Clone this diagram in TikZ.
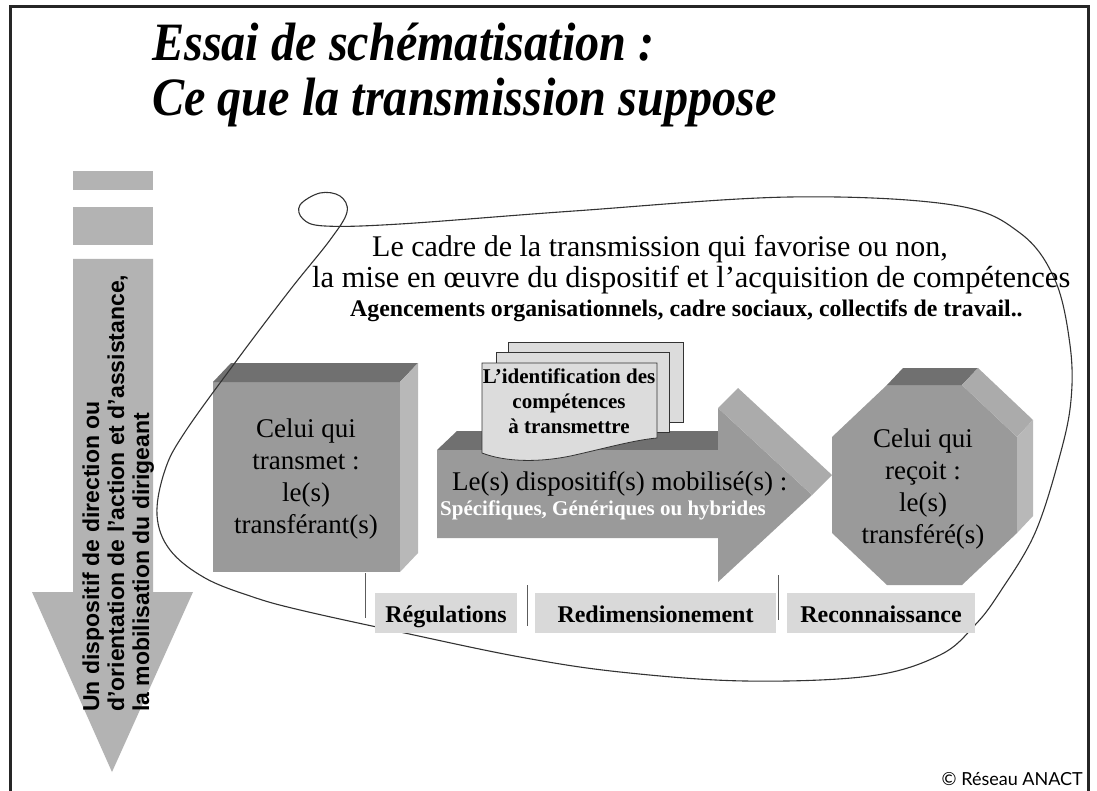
\documentclass[tikz,border=0pt]{standalone}
\usepackage{fontspec}
\setmainfont{Liberation Serif}
\newfontfamily\arialf{Liberation Sans}
\newfontfamily\gillf{Lato}
\definecolor{arrgray}{HTML}{B3B3B3}
\definecolor{frontg}{HTML}{9A9A9A}
\definecolor{topg}{HTML}{707070}
\definecolor{sideg}{HTML}{B8B8B8}
\definecolor{headg}{HTML}{ABABAB}
\definecolor{docg}{HTML}{DCDCDC}
\definecolor{labg}{HTML}{D9D9D9}
\definecolor{lineg}{HTML}{333333}
\definecolor{frameg}{HTML}{262626}
\tikzset{
  frontface/.style={fill=frontg},
  topface/.style={fill=topg},
  sideface/.style={fill=sideg},
  docsheet/.style={fill=docg, draw=lineg, line width=0.8pt},
  labelbox/.style={fill=labg},
  labeltext/.style={anchor=base, inner sep=0, font=\fontsize{24}{24}\selectfont\bfseries},
  boxtext/.style={anchor=base, inner sep=0, font=\fontsize{27}{27}\selectfont},
  doctext/.style={anchor=base, inner sep=0, font=\fontsize{21}{21}\selectfont\bfseries},
  arrtext/.style={rotate=90, anchor=base west, inner sep=0, font=\arialf\fontsize{23}{23}\selectfont\bfseries},
  titletext/.style={anchor=base west, inner sep=0, font=\fontsize{54}{54}\selectfont\bfseries\itshape},
  sepline/.style={draw=lineg!80, line width=0.8pt},
}
\begin{document}
\begin{tikzpicture}[x=1pt,y=-1pt]
\useasboundingbox (0,0) rectangle (1097,791);
\fill[white] (0,0) rectangle (1097,791);
% frame
\draw[frameg, line width=3pt] (10.5,791) -- (10.5,6.5) -- (1088.5,6.5) -- (1088.5,791);
% title
\node[titletext] (title1) at (152,61) {\scalebox{0.893}[1]{Essai de schématisation :}};
\node[titletext] (title2) at (152,116) {\scalebox{0.893}[1]{Ce que la transmission suppose}};
% left arrow
\fill[arrgray] (73,171) rectangle (153,190);
\fill[arrgray] (73,207) rectangle (153,245);
\fill[arrgray] (73,259) -- (153,259) -- (153,592) -- (193,592) -- (112,772) -- (32,592) -- (73,592) -- cycle;
\node[arrtext] (arr1) at (99,712) {Un dispositif de direction ou};
\node[arrtext] (arr2) at (124,712) {d’orientation de l’action et d’assistance,};
\node[arrtext] (arr3) at (149,712) {la mobilisation du dirigeant};
% cube (transmitter)
\fill[frontface] (213,382) rectangle (400,572);
\fill[topface] (213,382) -- (231,363) -- (418,363) -- (400,382) -- cycle;
\fill[sideface] (400,382) -- (418,363) -- (418,553) -- (400,572) -- cycle;
\node[boxtext] (tr1) at (306,437) {Celui qui};
\node[boxtext] (tr2) at (306,469) {transmet :};
\node[boxtext] (tr3) at (306,501) {le(s)};
\node[boxtext] (tr4) at (306,533) {transférant(s)};
% big arrow (dispositif)
\fill[topface] (437,450) -- (457,431) -- (738,431) -- (718,450) -- cycle;
\fill[frontface] (437,450) -- (718,450) -- (718,408) -- (812,495) -- (718,582) -- (718,538) -- (437,538) -- cycle;
\fill[fill=headg] (718,408) -- (738,388) -- (832,475) -- (812,495) -- cycle;
\node[anchor=base west, inner sep=0, font=\fontsize{27}{27}\selectfont] (disp) at (452,490) {Le(s) dispositif(s) mobilisé(s) :};
\node[anchor=base west, inner sep=0, text=white, font=\fontsize{21}{21}\selectfont\bfseries] (spec) at (440,515) {Spécifiques, Génériques ou hybrides};
% document stack
\draw[docsheet] (508,342) rectangle (683,422);
\draw[docsheet] (496,352) rectangle (669,432);
\draw[docsheet] (482,363) -- (657,363) -- (657,438) .. controls (635,440) and (610,447) .. (575,455) .. controls (540,463) and (505,462) .. (482,453) -- cycle;
\node[doctext] (doc1) at (569,383) {L’identification des};
\node[doctext] (doc2) at (569,408) {compétences};
\node[doctext] (doc3) at (569,433) {à transmettre};
% octagon (receiver)
\fill[frontface] (887,385) -- (962,385) -- (1017,437) -- (1017,533) -- (962,585) -- (887,585) -- (832,533) -- (832,437) -- cycle;
\fill[topface] (887,385) -- (903,368) -- (978,368) -- (962,385) -- cycle;
\fill[fill=headg] (962,385) -- (978,368) -- (1033,420) -- (1017,437) -- cycle;
\fill[sideface] (1017,437) -- (1033,420) -- (1033,516) -- (1017,533) -- cycle;
\node[boxtext] (re1) at (923,447) {Celui qui};
\node[boxtext] (re2) at (923,479) {reçoit :};
\node[boxtext] (re3) at (923,511) {le(s)};
\node[boxtext] (re4) at (923,543) {transféré(s)};
% frame curve
\draw[lineg, line width=1.1pt] plot[smooth cycle, tension=0.6] coordinates {
 (400,224) (574,211) (790,197) (953,205) (1020,233) (1055,280) (1070,345) (1071,400)
 (1060,455) (1035,533) (1000,592) (975,625) (940,655) (870,676) (745,681) (620,672)
 (520,657) (400,632) (300,610) (253,597) (205,578) (170,550) (157,515) (165,470)
 (185,432) (237,360) (290,290) (330,240) (347,212) (340,196) (320,193) (300,205)
 (303,219) (325,226)};
% context text
\node[anchor=base west, inner sep=0, font=\fontsize{30}{30}\selectfont] (cad1) at (372,257) {Le cadre de la transmission qui favorise ou non,};
\node[anchor=base west, inner sep=0, font=\fontsize{30.5}{30}\selectfont] (cad2) at (312,288) {la mise en œuvre du dispositif et l’acquisition de compétences};
\node[anchor=base west, inner sep=0, font=\fontsize{23.8}{23.8}\selectfont\bfseries] (agen) at (350,317) {Agencements organisationnels, cadre sociaux, collectifs de travail..};
% separators
\draw[sepline] (365,573) -- (365,618);
\draw[sepline] (527,585) -- (527,626);
\draw[sepline] (778,575) -- (778,620);
% label boxes
\fill[labelbox] (375,593) rectangle (517,633);
\fill[labelbox] (535,593) rectangle (776,633);
\fill[labelbox] (787,593) rectangle (975,633);
\node[labeltext] (lab1) at (446,622) {Régulations};
\node[labeltext] (lab2) at (655.5,622) {Redimensionement};
\node[labeltext] (lab3) at (881,622) {Reconnaissance};
% copyright
\node[anchor=base east, inner sep=0, font=\gillf\fontsize{18}{18}\selectfont] (copy) at (1083,785) {© Réseau ANACT};
\end{tikzpicture}
\end{document}
